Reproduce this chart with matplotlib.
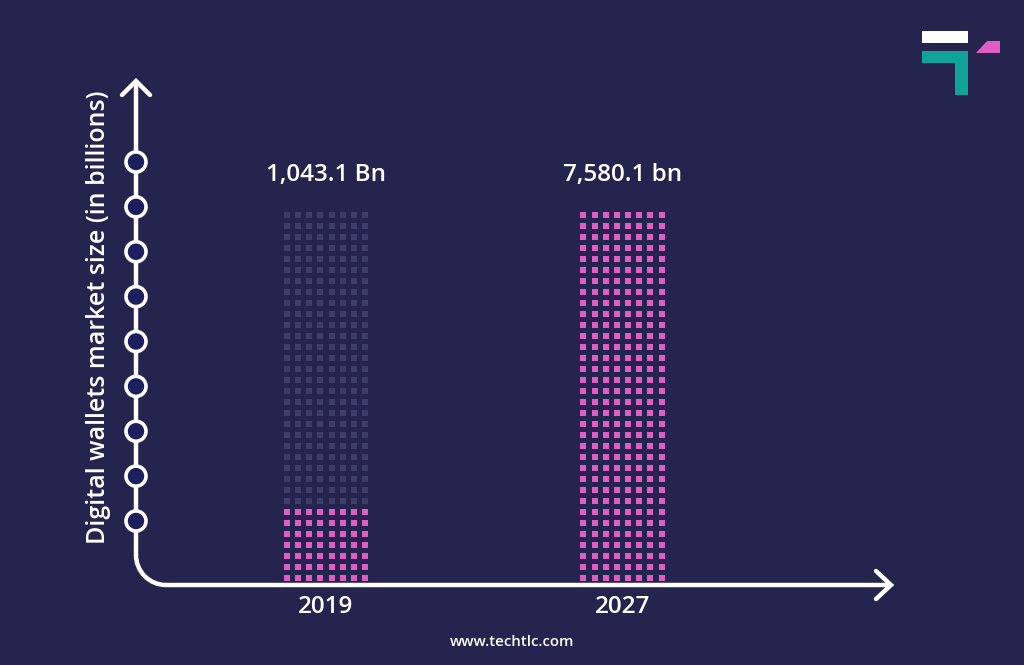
import numpy as np
import matplotlib.pyplot as plt
from matplotlib.patches import Circle, Rectangle, Polygon, Arc

years = ["2019", "2027"]
values = [1043.1, 7580.1]
value_labels = ["1,043.1 Bn", "7,580.1 bn"]
filled_rows = [7, 34]   # pink rows
total_rows = 34
n_cols = 8
y_label = "Digital wallets market size (in billions)"
site = "www.techtlc.com"

bg = "#24244f"
pink = "#e05ec4"
dim = "#3c3d68"
knob = "#1c1e5e"
teal = "#0fa39a"

W, H = 1024, 665
fig = plt.figure(figsize=(W / 100, H / 100), dpi=100, facecolor=bg)
plt.rcParams['font.family'] = ['Open Sans', 'DejaVu Sans']

# pixel axes for the decorations
ax = fig.add_axes([0, 0, 1, 1])
ax.set_xlim(0, W)
ax.set_ylim(H, 0)
ax.set_facecolor(bg)
ax.axis("off")

lw = 3.2
x0, ybase, r = 136, 585, 30
ax.plot([x0, x0], [82, ybase - r], color="white", lw=lw, solid_capstyle="round")
ax.add_patch(Arc((x0 + r, ybase - r), 2 * r, 2 * r, theta1=90, theta2=180,
                 color="white", lw=lw))
ax.plot([x0 + r, 890], [ybase, ybase], color="white", lw=lw, solid_capstyle="round")
ax.plot([122, x0, 150], [95, 81, 95], color="white", lw=lw,
        solid_capstyle="round", solid_joinstyle="miter")
ax.plot([876, 891, 876], [571, 585, 599], color="white", lw=lw,
        solid_capstyle="round", solid_joinstyle="miter")

for yc in np.linspace(162, 521, 9):
    ax.add_patch(Circle((x0, yc), 10, facecolor=knob, edgecolor="white", lw=2.6, zorder=3))

ax.text(99, 317, y_label, rotation=90, color="white", fontsize=18,
        fontweight="semibold", ha="center", va="center")
ax.text(512, 642, site, color="white", fontsize=10.8, fontweight="semibold",
        ha="center", va="center")

# logo
ax.add_patch(Rectangle((922, 31), 46, 12, color="white", lw=0))
ax.add_patch(Polygon([(922, 51), (968, 51), (968, 95), (955, 95), (955, 63), (922, 63)],
                     closed=True, color=teal, lw=0))
ax.add_patch(Polygon([(976, 53), (987, 41), (1000, 41), (1000, 53)],
                     closed=True, color=pink, lw=0))

# dot-grid bars in data units: x = category, y = row
left_px, right_px = 326 - 148.25, 622.5 + 148.25
top_px, bot_px = 215 - 5.5, 578 + 5.5
bx = fig.add_axes([left_px / W, (H - bot_px) / H, (right_px - left_px) / W,
                   (bot_px - top_px) / H])
bx.set_xlim(-0.5, 1.5)
bx.set_ylim(-0.5, total_rows - 0.5)
bx.axis("off")
bx.patch.set_alpha(0)

col_step = 11.15 / 296.5
offsets = (np.arange(n_cols) - (n_cols - 1) / 2) * col_step
for i, (yr, val, lab, fr) in enumerate(zip(years, values, value_labels, filled_rows)):
    cx, cy = np.meshgrid(i + offsets, np.arange(total_rows))
    cx, cy = cx.ravel(), cy.ravel()
    on = cy < fr
    bx.scatter(cx[~on], cy[~on], marker="s", s=20, color=dim, lw=0)
    bx.scatter(cx[on], cy[on], marker="s", s=20, color=pink, lw=0)
    bx.text(i, total_rows + 2.6, lab, color="white", fontsize=17.5,
            fontweight="semibold", ha="center", va="center", clip_on=False)
    bx.text(i, -2.6, yr, color="white", fontsize=17.5, fontweight="semibold",
            ha="center", va="center", clip_on=False)

fig.savefig("out.png", dpi=100, facecolor=bg)
